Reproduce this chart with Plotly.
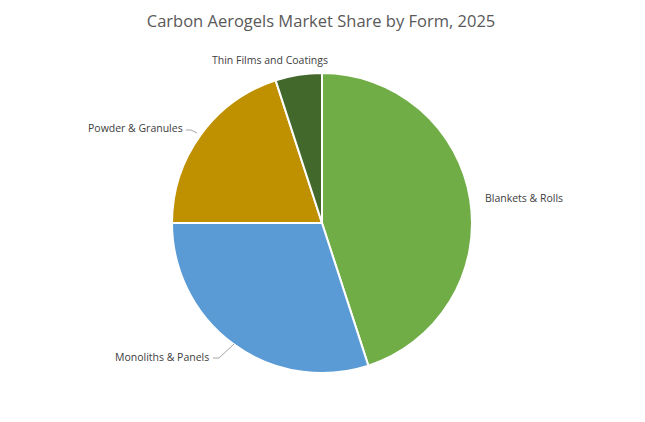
import plotly.graph_objects as go

categories = ["Blankets & Rolls", "Monoliths & Panels", "Powder & Granules", "Thin Films and Coatings"]
shares = [45, 30, 20, 5]
colors = ["#70AD47", "#5B9BD5", "#BF9000", "#43682B"]

W, H = 645, 422
OFF = 8  # page body margin
cx, cy, r = 322 - OFF, 223 - OFF, 150

fig = go.Figure(go.Pie(
    labels=categories, values=shares, sort=False, direction="clockwise", rotation=0,
    marker=dict(colors=colors, line=dict(color="white", width=2)),
    textinfo="none", hoverinfo="label+percent", showlegend=False,
    domain=dict(x=[(cx - r) / W, (cx + r) / W], y=[(H - cy - r) / H, (H - cy + r) / H]),
))

lbl_font = dict(family="Open Sans, Noto Sans, sans-serif", size=10.5, color="#404040")
label_pos = {
    "Blankets & Rolls": (483, 198, "left"),
    "Monoliths & Panels": (211, 357, "right"),
    "Powder & Granules": (185, 128, "right"),
    "Thin Films and Coatings": (270, 60, "center"),
}
for name, (x, y, anchor) in label_pos.items():
    fig.add_annotation(x=(x - OFF) / W, y=1 - (y - OFF) / H, xref="paper", yref="paper", text=name,
                       showarrow=False, xanchor=anchor, yanchor="middle", font=lbl_font)

leaders = [((186, 130), (191, 130), (197, 133)), ((213, 358), (219, 358), (234, 344))]
for pts in leaders:
    path = "M " + " L ".join(f"{(x - OFF) / W},{1 - (y - OFF) / H}" for x, y in pts)
    fig.add_shape(type="path", xref="paper", yref="paper", path=path,
                  line=dict(color="#A6A6A6", width=1))

fig.update_layout(
    width=W, height=H, margin=dict(l=0, r=0, t=0, b=0),
    paper_bgcolor="white", plot_bgcolor="white",
    title=dict(text="Carbon Aerogels Market Share by Form, 2025", x=(321 - OFF) / W, xanchor="center",
               y=1 - (21 - OFF) / H, yanchor="middle",
               font=dict(family="Open Sans, Noto Sans, sans-serif", size=16.5, color="#595959")),
)

fig.write_html("out.html")
